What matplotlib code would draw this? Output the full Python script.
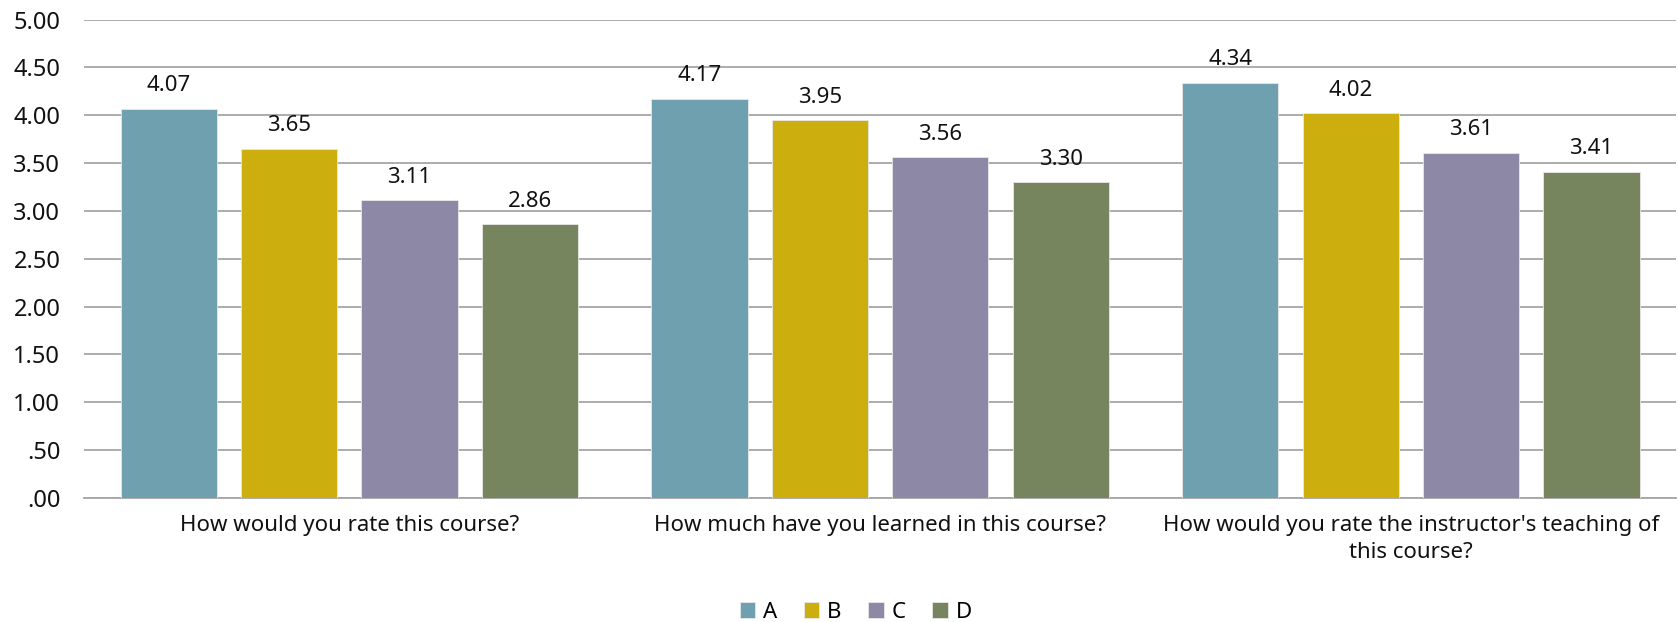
import numpy as np
import matplotlib
matplotlib.use("Agg")
import matplotlib.pyplot as plt
from matplotlib.ticker import FuncFormatter

# ── Data ──────────────────────────────────────────────────────────────────────
QUESTIONS = [
    "How would you rate this course?",
    "How much have you learned in this course?",
    "How would you rate the instructor's teaching of\nthis course?",
]
SERIES = ["A", "B", "C", "D"]
VALUES_A = [4.07, 4.17, 4.34]
VALUES_B = [3.65, 3.95, 4.02]
VALUES_C = [3.11, 3.56, 3.61]
VALUES_D = [2.86, 3.30, 3.41]
COLORS = ["#6FA0B0", "#CCAF0E", "#8C88A5", "#77855F"]

plt.rcParams["font.family"] = ["Noto Sans", "DejaVu Sans"]
FS = 16

fig = plt.figure(figsize=(16.78, 6.22), dpi=100)
ax = fig.add_axes([0.050, 0.1994, 0.949, 0.7692])

x = np.arange(len(QUESTIONS))
pitch, width = 0.2268, 0.181
for i, (name, vals, col) in enumerate(zip(SERIES, [VALUES_A, VALUES_B, VALUES_C, VALUES_D], COLORS)):
    bars = ax.bar(x + (i - 1.5) * pitch, vals, width, color=col, label=name,
                  edgecolor="#E8E8E8", linewidth=0.6, zorder=3)
    for b, v in zip(bars, vals):
        ax.annotate(f"{v:.2f}", (b.get_x() + b.get_width() / 2, v),
                    xytext=(0, 9), textcoords="offset points",
                    ha="center", va="bottom", fontsize=FS, color="#111111")

ax.set_xlim(-0.5, 2.5)
ax.set_ylim(0, 5.0)
ax.set_yticks(np.arange(0, 5.01, 0.5))
ax.yaxis.set_major_formatter(FuncFormatter(lambda v, _: f"{v:.2f}".lstrip("0") if v < 1 else f"{v:.2f}"))
ax.grid(axis="y", color="#A6A6A6", lw=1.3, zorder=0)
for s in ["top", "right", "left"]:
    ax.spines[s].set_visible(False)
ax.spines["bottom"].set_color("#A6A6A6")
ax.spines["bottom"].set_linewidth(1.3)
ax.tick_params(axis="y", length=0, labelsize=17, pad=17, colors="#111111")
ax.set_xticks(x)
ax.set_xticklabels(QUESTIONS, fontsize=FS, color="#111111", linespacing=1.4)
ax.tick_params(axis="x", length=0, pad=12)

fig.legend(loc="lower center", bbox_to_anchor=(0.51, -0.033), ncol=4, frameon=False,
           fontsize=FS, handlelength=0.7, handleheight=0.7, handletextpad=0.35,
           columnspacing=1.2)

fig.savefig("out.png", dpi=100)
